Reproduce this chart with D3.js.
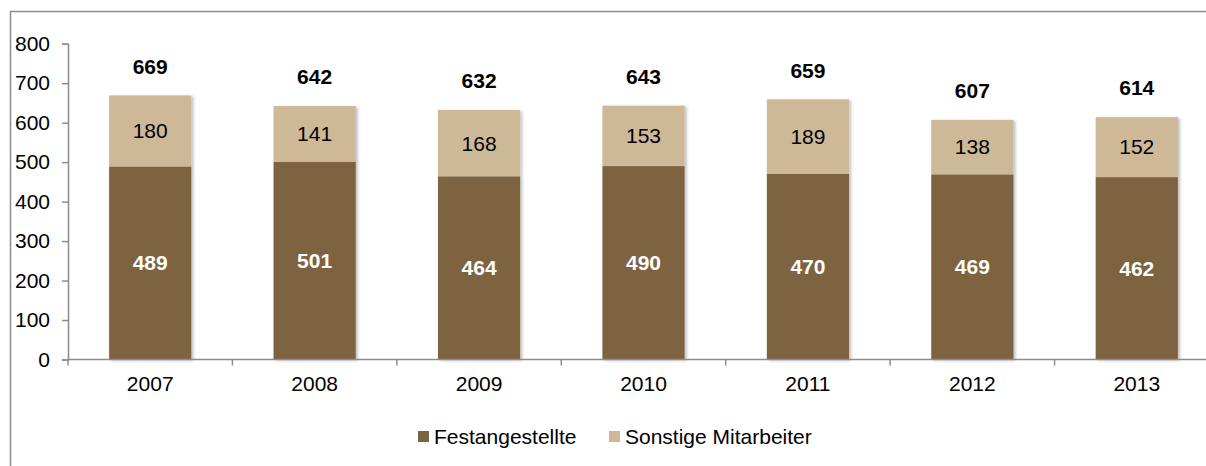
<!DOCTYPE html>
<html>
<head>
<meta charset="utf-8">
<script src="https://cdn.jsdelivr.net/npm/d3@7"></script>
<style>
  html, body { margin: 0; background: #fff; overflow: hidden; }
  svg { display: block; }
  text { font-family: "Liberation Sans", Arial, sans-serif; }
</style>
</head>
<body>
<script>
var w = 1206;
var h = 466;

var years = ["2007", "2008", "2009", "2010", "2011", "2012", "2013"];
var festangestellte = [489, 501, 464, 490, 470, 469, 462];
var sonstige = [180, 141, 168, 153, 189, 138, 152];
var totals = [669, 642, 632, 643, 659, 607, 614];
var yTicks = [0, 100, 200, 300, 400, 500, 600, 700, 800];
var seriesNames = ["Festangestellte", "Sonstige Mitarbeiter"];
var colors = ["#7d6440", "#cdb898"];
var fs = 21;

var svg = d3.select("body").append("svg").attr("width", w).attr("height", h);

// outer frame: only top and left edges are inside the picture
svg.append("path")
  .attr("d", "M10.5," + h + "V11.5H" + w)
  .attr("fill", "none").attr("stroke", "#8c8c8c").attr("stroke-width", 1.5);

var defs = svg.append("defs");
var f = defs.append("filter").attr("id", "shadow")
  .attr("x", "-10%").attr("y", "-10%").attr("width", "130%").attr("height", "130%");
f.append("feDropShadow").attr("dx", 2).attr("dy", 1).attr("stdDeviation", 1.5)
  .attr("flood-color", "#000").attr("flood-opacity", 0.25);

var x = d3.scaleBand().domain(years).range([68, 1219]).paddingInner(0.5).paddingOuter(0.25);
var y = d3.scaleLinear().domain([0, 800]).range([359.5, 43.7]);

var data = years.map(function (yr, i) {
  return { year: yr, a: festangestellte[i], b: sonstige[i], t: totals[i] };
});

var g = svg.append("g").attr("filter", "url(#shadow)");

g.selectAll("rect.a").data(data).enter().append("rect")
  .attr("class", "a")
  .attr("x", function (d) { return x(d.year); })
  .attr("y", function (d) { return y(d.a); })
  .attr("width", x.bandwidth())
  .attr("height", function (d) { return y(0) - y(d.a); })
  .attr("fill", colors[0]);

g.selectAll("rect.b").data(data).enter().append("rect")
  .attr("class", "b")
  .attr("x", function (d) { return x(d.year); })
  .attr("y", function (d) { return y(d.a + d.b); })
  .attr("width", x.bandwidth())
  .attr("height", function (d) { return y(d.a) - y(d.a + d.b); })
  .attr("fill", colors[1]);

// y axis
var yAxis = svg.append("g").attr("transform", "translate(68,0)")
  .call(d3.axisLeft(y).tickValues(yTicks).tickSize(6).tickPadding(12).tickFormat(d3.format("d")));
// x axis
var xAxis = svg.append("g").attr("transform", "translate(0," + y(0) + ")")
  .call(d3.axisBottom(x).tickSize(0).tickPadding(17));

[yAxis, xAxis].forEach(function (ax) {
  ax.select(".domain").attr("stroke", "#8c8c8c").attr("stroke-width", 1.5);
  ax.selectAll(".tick line").attr("stroke", "#8c8c8c").attr("stroke-width", 1.5);
  ax.selectAll("text").attr("font-size", fs).attr("fill", "#000")
    .attr("font-family", "Liberation Sans, Arial, sans-serif");
});
xAxis.select(".domain").attr("d", "M68,0H" + w);

// category separators on the x axis
var step = x.step();
svg.selectAll("line.sep").data(d3.range(years.length)).enter().append("line")
  .attr("x1", function (i) { return 68 + i * step; })
  .attr("x2", function (i) { return 68 + i * step; })
  .attr("y1", y(0)).attr("y2", y(0) + 6)
  .attr("stroke", "#8c8c8c").attr("stroke-width", 1.5);

// labels
var cx = function (d) { return x(d.year) + x.bandwidth() / 2; };

svg.selectAll("text.la").data(data).enter().append("text")
  .attr("x", cx)
  .attr("y", function (d) { return (y(0) + y(d.a)) / 2; })
  .attr("dy", "0.35em").attr("text-anchor", "middle")
  .attr("font-size", fs).attr("font-weight", "bold").attr("fill", "#fff")
  .text(function (d) { return d.a; });

svg.selectAll("text.lb").data(data).enter().append("text")
  .attr("x", cx)
  .attr("y", function (d) { return (y(d.a) + y(d.a + d.b)) / 2; })
  .attr("dy", "0.35em").attr("text-anchor", "middle")
  .attr("font-size", fs).attr("fill", "#000")
  .text(function (d) { return d.b; });

svg.selectAll("text.lt").data(data).enter().append("text")
  .attr("x", cx)
  .attr("y", function (d) { return y(d.t) - 29; })
  .attr("dy", "0.35em").attr("text-anchor", "middle")
  .attr("font-size", fs).attr("font-weight", "bold").attr("fill", "#000")
  .text(function (d) { return d.t; });

// legend
var legendX = [418, 609];
var lg = svg.selectAll("g.leg").data(seriesNames).enter().append("g")
  .attr("transform", function (d, i) { return "translate(" + legendX[i] + ",431)"; });
lg.append("rect").attr("width", 11).attr("height", 11)
  .attr("fill", function (d, i) { return colors[i]; });
lg.append("text").attr("x", 16).attr("y", 6).attr("dy", "0.35em")
  .attr("font-size", fs).attr("fill", "#000")
  .text(function (d) { return d; });
</script>
</body>
</html>
